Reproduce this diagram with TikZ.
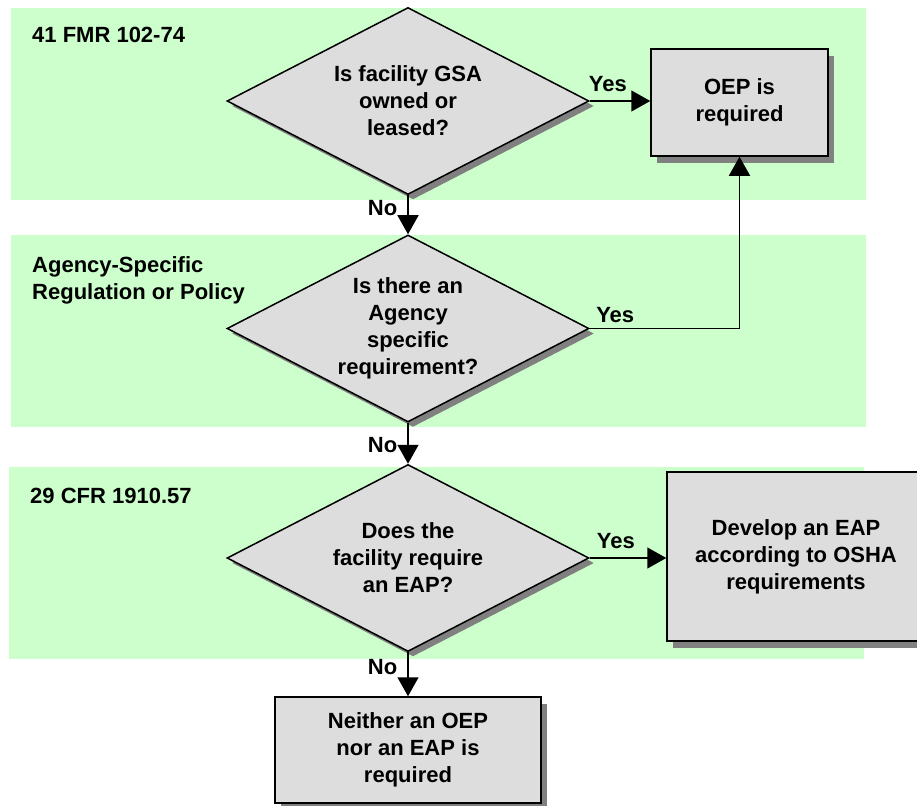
\documentclass[tikz,border=0pt]{standalone}
\usepackage{fontspec}
\setmainfont{Liberation Sans}
\usetikzlibrary{shapes.geometric,arrows.meta,shadows}
\definecolor{bandgreen}{HTML}{CCFFCC}
\definecolor{boxgray}{HTML}{DDDDDD}

\begin{document}
\begin{tikzpicture}[x=1pt,y=-1pt,
    font=\fontsize{22}{27}\selectfont\bfseries,
    band/.style={fill=bandgreen},
    quest/.style={draw,diamond,aspect=1.95,inner sep=0pt,minimum width=362pt,minimum height=187pt,
      align=center,fill=boxgray,line width=1.5pt,
      drop shadow={shadow xshift=5pt,shadow yshift=-5pt,fill=black!50,opacity=1}},
    result/.style={draw,rectangle,inner sep=0pt,align=center,fill=boxgray,line width=1.5pt,
      drop shadow={shadow xshift=6pt,shadow yshift=-7pt,fill=black!50,opacity=1}},
    flow/.style={-{Triangle[length=19pt,width=21pt]},line width=1.5pt},
    lbl/.style={inner sep=2pt}]
      \useasboundingbox (0,0) rectangle (917,805);
      \clip (0,0) rectangle (917,805);

      % regulation bands
      \fill[band] (11,8) rectangle (866,200);
      \fill[band] (11,235) rectangle (866,427);
      \fill[band] (9,467) rectangle (864,659);
      \node [anchor=base west,inner sep=0pt] (fmr) at (32,43) {41 FMR 102-74};
      \node [anchor=north west,align=left,inner sep=0pt] (policy) at (32,256) {Agency-Specific\\Regulation or Policy};
      \node [anchor=base west,inner sep=0pt] (cfr) at (30,503) {29 CFR 1910.57};

      % questions and results
      \node [quest] (gsa) at (408,101) {Is facility GSA\\owned or\\leased?};
      \node [quest] (agency) at (408,328.5) {Is there an\\Agency\\specific\\requirement?};
      \node [quest] (osha) at (408,558) {Does the\\facility require\\an EAP?};
      \node [result,minimum width=177pt,minimum height=107pt] (oep) at (739.5,102.5) {OEP is\\required};
      \node [result,minimum width=258pt,minimum height=169pt] (eap) at (796,556.5) {Develop an EAP\\according to OSHA\\requirements};
      \node [result,minimum width=266pt,minimum height=106pt] (neither) at (408,750) {Neither an OEP\\nor an EAP is\\required};

      \draw[flow] (gsa.east) -- node[lbl,above=7pt,pos=0.3] {Yes} (gsa.east -| oep.west);
      \draw[flow] (gsa) -- node[lbl,left=8pt,pos=0.33] {No} (agency);
      \draw[flow] (agency.east) -- node[lbl,above=3pt,pos=0.17] {Yes} (agency.east -| oep.south) -- (oep.south);
      \draw[flow] (agency) -- node[lbl,left=8pt,pos=0.55] {No} (osha);
      \draw[flow] (osha.east) -- node[lbl,above=7pt,pos=0.34] {Yes} (osha.east -| eap.west);
      \draw[flow] (osha) -- node[lbl,left=8pt,pos=0.33] {No} (neither);
\end{tikzpicture}
\end{document}
